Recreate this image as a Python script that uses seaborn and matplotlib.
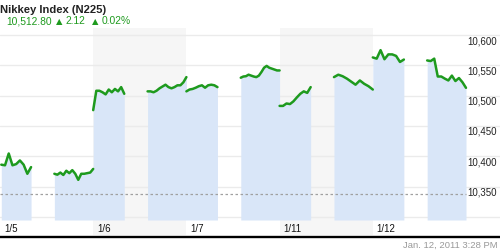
import numpy as np
import pandas as pd
import matplotlib
matplotlib.use("Agg")
import matplotlib.pyplot as plt
import matplotlib.transforms as mtransforms
from matplotlib.lines import Line2D
import seaborn as sns

# ---------------- data ----------------
days = ["1/5", "1/6", "1/7", "1/11", "1/12"]
shaded_days = ["1/6", "1/11"]

# Nikkei 225 intraday values: morning session 9:00-11:00, afternoon 12:30-15:00
am_0105 = [10386, 10385, 10404.5, 10385, 10387, 10393, 10386, 10371, 10382]
pm_0105 = [10371, 10369.5, 10373, 10369, 10376, 10372, 10377, 10371, 10361,
           10371, 10371, 10372, 10373, 10379]
am_0106 = [10476, 10508, 10508, 10505.5, 10502, 10510, 10505.5, 10511, 10507,
           10514, 10503]
pm_0106 = [10507, 10507, 10505.5, 10508, 10512, 10515, 10518, 10514, 10512,
           10514, 10517, 10517, 10522, 10530.5]
am_0107 = [10507, 10510, 10511, 10513, 10515.5, 10517, 10513, 10517, 10518,
           10517, 10514]
pm_0107 = [10529.5, 10531.5, 10532, 10534.5, 10533, 10531.5, 10530.5, 10533,
           10539, 10546, 10549, 10546, 10544.5, 10543, 10541.5, 10541.5]
am_0111 = [10483, 10483, 10487, 10486, 10490.5, 10497, 10503, 10507, 10504.5,
           10514]
pm_0111 = [10530.5, 10534.5, 10532, 10528, 10523, 10518, 10525, 10519.5,
           10515.5, 10510]
am_0112 = [10563, 10561, 10575, 10560, 10568, 10568, 10565.5, 10555.5, 10559.5]
pm_0112 = [10558, 10557, 10561, 10531.5, 10531.5, 10528, 10525, 10533, 10524,
           10529, 10522, 10512.8]

# session minutes after 9:00 (start, end)
am_window = (0, 120)
am_window_first = (5, 120)
pm_window = (210, 360)
minutes_per_day = 360

y_ticks = [10350, 10400, 10450, 10500, 10550, 10600]
grid_values = [10300, 10350, 10400, 10450, 10500, 10550, 10600]
ref_value = 10338

title = "Nikkey Index (N225)"
last_price = "10,512.80"
change = "2.12"
change_pct = "0.02%"
timestamp = "Jan. 12, 2011 3:28 PM"

# ---------------- build table ----------------
sessions = [
    (0, "am", am_0105, am_window_first), (0, "pm", pm_0105, pm_window),
    (1, "am", am_0106, am_window), (1, "pm", pm_0106, pm_window),
    (2, "am", am_0107, am_window), (2, "pm", pm_0107, pm_window),
    (3, "am", am_0111, am_window), (3, "pm", pm_0111, pm_window),
    (4, "am", am_0112, am_window), (4, "pm", pm_0112, pm_window),
]
rows = []
for seg, (d, s, vals, win) in enumerate(sessions):
    t = d * minutes_per_day + np.linspace(win[0], win[1], len(vals))
    for ti, vi in zip(t, vals):
        rows.append({"t": ti, "v": vi, "seg": seg, "day": d, "sess": s})
df = pd.DataFrame(rows)

# fill groups: afternoon of day d joined with morning of day d+1
fill_groups = []
cur = None
for seg, (d, s, vals, win) in enumerate(sessions):
    part = df[df.seg == seg]
    if s == "am":
        if cur is None:
            fill_groups.append(part)
        else:
            fill_groups.append(pd.concat([cur, part]))
            cur = None
    else:
        cur = part
if cur is not None:
    fill_groups.append(cur)

# ---------------- style ----------------
sns.set_theme(style="white")
plt.rcParams["font.family"] = ["Liberation Sans", "DejaVu Sans"]

green = "#1e9a1e"
fill_c = "#d9e6f8"
band_c = "#f6f6f6"
grid_c = "#ebebeb"

W, H = 500, 250
fig = plt.figure(figsize=(5, 2.5), dpi=100)
ax_top, ax_bot = 28, 220
ax = fig.add_axes([0, 1 - ax_bot / H, 1, (ax_bot - ax_top) / H])
plot_right_px = 466
total_min = minutes_per_day * len(days)

px_per_50 = 30.3
def val_at(ypx):
    return 10600 - (ypx - 35) * 50 / px_per_50
y_lo, y_hi = val_at(ax_bot), val_at(ax_top)

# alternating day bands
for i, d in enumerate(days):
    if d in shaded_days:
        p = ax.axvspan(i * minutes_per_day, (i + 1) * minutes_per_day,
                       ymin=-15 / (ax_bot - ax_top), ymax=1,
                       color=band_c, lw=0, zorder=0)
        p.set_clip_on(False)

for g in grid_values:
    ax.axhline(g, color=grid_c, lw=1, zorder=1)

for part in fill_groups:
    ax.fill_between(part.t.values, part.v.values, y_lo, color=fill_c,
                    lw=0, zorder=2)

ax.axhline(ref_value, xmin=0, xmax=plot_right_px / W, color="#a0a0a0",
           lw=0.9, ls=(0, (2, 2)), zorder=3)

sns.lineplot(data=df, x="t", y="v", units="seg", estimator=None, color=green,
             lw=1.8, ax=ax, legend=False, zorder=4, sort=True)
for ln in ax.get_lines()[-len(sessions):]:
    ln.set_solid_joinstyle("round")
    ln.set_solid_capstyle("round")
ax.set_xlim(0, total_min * W / plot_right_px)
ax.set_ylim(y_lo, y_hi)
ax.set_axis_off()

# y labels on the right
ytrans = mtransforms.blended_transform_factory(ax.transAxes, ax.transData)
for v in y_ticks:
    ax.text(467 / W, v - 6 * 50 / px_per_50, f"{v:,}", transform=ytrans,
            ha="left", va="center", fontsize=7, color="#222222")

# day labels
xtrans = ax.get_xaxis_transform()
for i, d in enumerate(days):
    ax.text(i * minutes_per_day + 15, (ax_bot - 231.5) / (ax_bot - ax_top), d,
            transform=xtrans, ha="left", va="baseline", fontsize=7,
            color="#111111", clip_on=False)

# bottom black rule
fig.add_artist(Line2D([0, 1], [1 - 236.8 / H] * 2, color="black", lw=1.7,
                      transform=fig.transFigure))

# header
fig.text(0.5 / W, 1 - 12.7 / H, title, ha="left", va="baseline",
         fontsize=8.1, fontweight="bold", color="#222222")
hy = 1 - 24 / H
fig.text(6 / W, hy, last_price, ha="left", va="baseline", fontsize=7.4,
         color=green)
fig.text(56 / W, hy, "\u25B2", ha="left", va="baseline", fontsize=6,
         color=green, family=["DejaVu Sans"])
fig.text(65 / W, hy, change, ha="left", va="baseline", fontsize=7.4,
         color=green)
fig.text(92 / W, hy, "\u25B2", ha="left", va="baseline", fontsize=6,
         color=green, family=["DejaVu Sans"])
fig.text(102 / W, hy, change_pct, ha="left", va="baseline", fontsize=7.4,
         color=green)

fig.text(498 / W, 1 - 248 / H, timestamp, ha="right", va="baseline",
         fontsize=6.8, color="#999999")

fig.savefig("out.png", dpi=100)
